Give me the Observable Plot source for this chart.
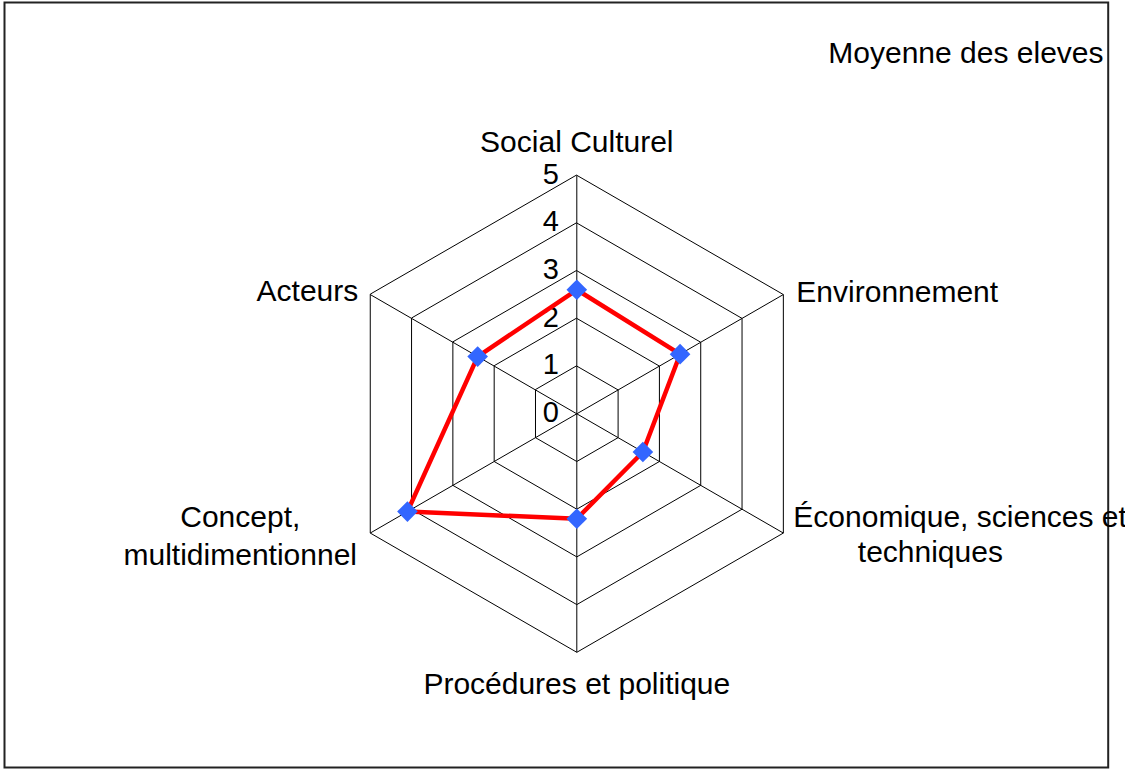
<!DOCTYPE html>
<html>
<head>
<meta charset="utf-8">
<script src="https://cdn.jsdelivr.net/npm/d3@7"></script>
<script src="https://cdn.jsdelivr.net/npm/@observablehq/plot@0.6"></script>
<style>
  html, body { margin: 0; padding: 0; background: #fff; overflow: hidden; }
</style>
</head>
<body>
<div id="chart"></div>
<script>
// ---- Data ----
const categories = [
  "Social Culturel",
  "Environnement",
  "Économique, sciences et techniques",
  "Procédures et politique",
  "Concept, multidimentionnel",
  "Acteurs"
];
const values = [2.6, 2.5, 1.6, 2.2, 4.1, 2.4];
const ticks = [0, 1, 2, 3, 4, 5];
const title = "Moyenne des eleves";

// ---- Layout ----
const W = 1125, H = 769;
const cx = 576.3, cy = 413.3, unit = 47.7;
const rMax = 5;
const font = "Liberation Sans, Arial, Helvetica, sans-serif";

const angle = i => Math.PI / 2 - i * Math.PI / 3;
const pt = (i, r) => ({x: r * Math.cos(angle(i)), y: r * Math.sin(angle(i))});

const grid = [];
ticks.filter(t => t > 0).forEach(r => {
  categories.forEach((c, i) => grid.push({r, i, ...pt(i, r)}));
});
const spokes = categories.map((c, i) => ({cat: c, ...pt(i, rMax)}));
const series = categories.map((c, i) => ({cat: c, value: values[i], ...pt(i, values[i])}));
const tickData = ticks.map(t => ({t, label: String(t)}));

// label placement (pixel offsets from each outer vertex)
const labelStyle = [
  [{text: "Social Culturel", dx: 0, dy: -35, anchor: "middle"}],
  [{text: "Environnement", dx: 13, dy: -5, anchor: "start"}],
  [{text: "Économique, sciences et", dx: 10, dy: -18, anchor: "start"},
   {text: "techniques", dx: 147, dy: 17, anchor: "middle"}],
  [{text: "Procédures et politique", dx: 0, dy: 30, anchor: "middle"}],
  [{text: "Concept,\nmultidimentionnel", dx: -130, dy: 1, anchor: "middle"}],
  [{text: "Acteurs", dx: -12, dy: -6, anchor: "end"}]
];

const labelMarks = [];
labelStyle.forEach((lines, i) => {
  lines.forEach(l => {
    labelMarks.push(Plot.text([spokes[i]], {
      x: "x", y: "y", text: () => l.text,
      dx: l.dx, dy: l.dy, textAnchor: l.anchor, lineAnchor: "middle",
      lineHeight: 1.25, fontSize: 30, fill: "#000"
    }));
  });
});

const chart = Plot.plot({
  width: W,
  height: H,
  margin: 0,
  style: {fontFamily: font, background: "#fff"},
  x: {domain: [-cx / unit, (W - cx) / unit], axis: null},
  y: {domain: [-(H - cy) / unit, cy / unit], axis: null},
  marks: [
    Plot.frame({insetLeft: 4, insetTop: 2, insetRight: 17.3, insetBottom: 2, stroke: "#222", strokeWidth: 2}),
    Plot.line(grid, {x: "x", y: "y", z: "r", curve: "linear-closed", stroke: "#000", strokeWidth: 1}),
    Plot.link(spokes, {x1: 0, y1: 0, x2: "x", y2: "y", stroke: "#000", strokeWidth: 1}),
    Plot.text(tickData, {x: 0, y: "t", text: "label", dx: -18, dy: -1, textAnchor: "end", lineAnchor: "middle", fontSize: 29, fill: "#000"}),
    Plot.line(series, {x: "x", y: "y", curve: "linear-closed", stroke: "#ff0000", strokeWidth: 4.5, strokeLinejoin: "round"}),
    Plot.dot(series, {x: "x", y: "y", symbol: "diamond2", r: 9.3, fill: "#3366ff", stroke: "none"}),
    ...labelMarks,
    Plot.text([title], {frameAnchor: "top-right", text: d => d, dx: -22, dy: 53, textAnchor: "end", lineAnchor: "middle", fontSize: 30, fill: "#000"})
  ]
});
document.getElementById("chart").appendChild(chart);
</script>
</body>
</html>
